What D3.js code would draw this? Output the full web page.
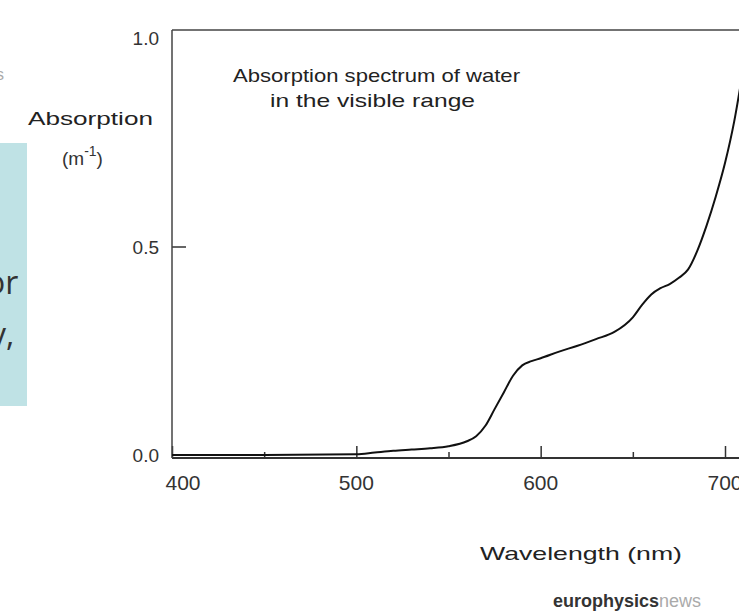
<!DOCTYPE html>
<html><head><meta charset="utf-8">
<script src="https://cdn.jsdelivr.net/npm/d3@7"></script>
<style>body{margin:0;background:#fff}svg{display:block;font-family:"Liberation Sans",Arial,sans-serif}</style>
</head><body><svg id="c" width="739" height="611"></svg>
<script>
const wavelengths=[400,450,500,510,520,530,540,550,560,565,570,575,580,585,590,595,600,610,620,630,640,650,655,660,665,670,675,680,685,690,695,700,705,710];
const absorption=[0.0,0.0,0.002,0.006,0.010,0.013,0.016,0.021,0.033,0.045,0.07,0.11,0.15,0.19,0.215,0.225,0.232,0.248,0.262,0.278,0.295,0.33,0.36,0.385,0.4,0.41,0.425,0.445,0.49,0.55,0.62,0.7,0.8,0.93];
const xTicks=[400,500,600,700], xMinor=[450,550,650], yTicks=[0.0,0.5,1.0];
const svg=d3.select("#c");
const x=d3.scaleLinear().domain([400,700]).range([172,725]);
const y=d3.scaleLinear().domain([0,1]).range([455,38]);
svg.append("rect").attr("x",0).attr("y",143).attr("width",27).attr("height",263).attr("fill","#bfe2e5");
svg.append("text").attr("x",-14).attr("y",294).attr("font-family","Open Sans, Liberation Sans").attr("font-size",32).attr("fill","#333").text("or");
svg.append("text").attr("x",-10).attr("y",346).attr("font-family","Open Sans, Liberation Sans").attr("font-size",32).attr("fill","#333").text("y,");
svg.append("text").attr("x",-4).attr("y",80).attr("font-size",16).attr("fill","#aaa").text("s");
svg.append("line").attr("x1",172).attr("x2",739).attr("y1",30).attr("y2",30).attr("stroke","#444").attr("stroke-width",1.5);
const g=svg.append("g");
g.append("g").attr("transform","translate(0,458)").call(d3.axisTop(x).tickValues(xTicks).tickSize(12).tickFormat(""))
 .call(a=>a.select(".domain").remove()).selectAll("line").attr("stroke","#333").attr("stroke-width",1.5);
g.append("g").attr("transform","translate(0,458)").call(d3.axisTop(x).tickValues(xMinor).tickSize(6).tickFormat(""))
 .call(a=>a.select(".domain").remove()).selectAll("line").attr("stroke","#333").attr("stroke-width",1.5);
svg.append("line").attr("x1",172).attr("x2",739).attr("y1",458).attr("y2",458).attr("stroke","#333").attr("stroke-width",2);
svg.append("line").attr("x1",172).attr("x2",172).attr("y1",30).attr("y2",458).attr("stroke","#444").attr("stroke-width",1.5);
g.append("g").attr("transform","translate(172,0)").call(d3.axisRight(y).tickValues([0.5]).tickSize(14).tickFormat(""))
 .call(a=>a.select(".domain").remove()).selectAll("line").attr("stroke","#333").attr("stroke-width",1.5);
yTicks.forEach(v=>svg.append("text").attr("x",159).attr("y",y(v)+7).attr("text-anchor","end").attr("font-size",19).attr("fill","#333").text(v.toFixed(1)));
xTicks.forEach(v=>svg.append("text").attr("x",x(v)+(v===400?11:0)).attr("y",490).attr("text-anchor","middle").attr("font-size",21).attr("fill","#333").text(v));
svg.append("path").datum(wavelengths.map((w,i)=>[w,absorption[i]]))
 .attr("d",d3.line().x(d=>x(d[0])).y(d=>y(d[1])).curve(d3.curveMonotoneX))
 .attr("fill","none").attr("stroke","#111").attr("stroke-width",2);
function t(xx,yy,s,fs,len){return svg.append("text").attr("x",xx).attr("y",yy).attr("font-size",fs).attr("fill","#222").attr("textLength",len).attr("lengthAdjust","spacingAndGlyphs").text(s);}
t(233,82,"Absorption spectrum of water",19,287);
t(270,107,"in the visible range",19,205);
t(28,125,"Absorption",19,125);
const u=svg.append("text").attr("x",62).attr("y",165).attr("font-size",19).attr("fill","#333");
u.append("tspan").text("(m");u.append("tspan").attr("dy",-9).attr("font-size",14).text("-1");u.append("tspan").attr("dy",9).text(")");
t(480,560,"Wavelength (nm)",19,202);
const e=svg.append("text").attr("x",553).attr("y",607).attr("font-size",18).attr("font-weight","bold").attr("fill","#333");
e.append("tspan").text("europhysics");e.append("tspan").attr("font-weight","normal").attr("fill","#aaa").text("news");
</script></body></html>
